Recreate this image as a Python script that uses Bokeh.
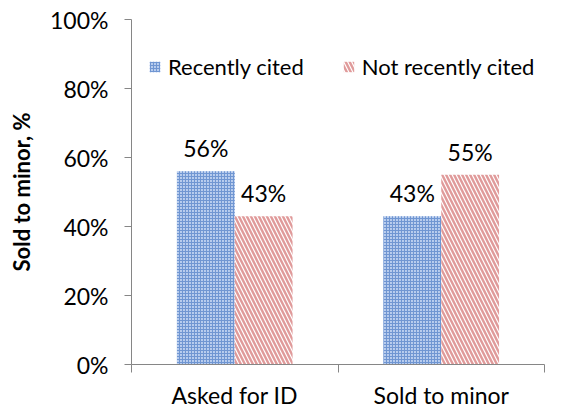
from bokeh.plotting import figure
from bokeh.models import (ColumnDataSource, FixedTicker, NumeralTickFormatter, Range1d,
                          Legend, LegendItem)
from bokeh.transform import dodge
from bokeh.core.properties import value
from bokeh.embed import file_html
from bokeh.resources import INLINE

categories = ["Asked for ID", "Sold to minor"]
recently_cited = [0.56, 0.43]
not_recently_cited = [0.43, 0.55]
recently_labels = ["56%", "43%"]
not_recently_labels = ["43%", "55%"]
y_ticks = [0, 0.2, 0.4, 0.6, 0.8, 1.0]

FONT = "Lato"
FS = "23px"
GRAY = "#868686"

src = ColumnDataSource(dict(
    x=[i + 0.5 for i in range(len(categories))],
    rec=recently_cited, notrec=not_recently_cited,
    rec_lbl=recently_labels, notrec_lbl=not_recently_labels,
))

p = figure(width=576, height=411, output_backend="svg", toolbar_location=None,
           x_range=Range1d(0, len(categories)), y_range=Range1d(0, 1),
           min_border_left=131, min_border_right=32, min_border_top=19, min_border_bottom=46)
p.background_fill_color = "white"
p.outline_line_color = None
p.xgrid.visible = False
p.ygrid.visible = False

bw = 0.28
r1 = p.vbar(x=dodge("x", -bw / 2), top="rec", width=bw, source=src,
            fill_color="#b9cdee", line_color=None,
            hatch_pattern="+", hatch_color="#7096d2", hatch_scale=3, hatch_weight=1.1)
r2 = p.vbar(x=dodge("x", bw / 2), top="notrec", width=bw, source=src,
            fill_color="white", line_color=None,
            hatch_pattern="\\", hatch_color="#e09a9a", hatch_scale=8, hatch_weight=2.4)

p.text(x=dodge("x", -bw / 2), y="rec", text="rec_lbl", source=src, y_offset=-9,
       text_align="center", text_baseline="bottom", text_font=value(FONT),
       text_font_size=FS, text_color="black")
p.text(x=dodge("x", bw / 2), y="notrec", text="notrec_lbl", source=src, y_offset=-9,
       text_align="center", text_baseline="bottom", text_font=value(FONT),
       text_font_size=FS, text_color="black")

# x axis: labels at centers, ticks at category boundaries
xa = p.xaxis[0]
xa.ticker = FixedTicker(ticks=[i + 0.5 for i in range(len(categories))],
                        minor_ticks=list(range(len(categories) + 1)))
xa.major_label_overrides = {i + 0.5: c for i, c in enumerate(categories)}
xa.major_tick_out = 0
xa.major_tick_in = 0
xa.minor_tick_out = 8
xa.minor_tick_in = 0
xa.minor_tick_line_color = GRAY
xa.axis_line_color = GRAY
xa.major_label_text_font = FONT
xa.major_label_text_font_size = FS
xa.major_label_text_color = "black"
xa.major_label_standoff = 8

ya = p.yaxis[0]
ya.ticker = FixedTicker(ticks=y_ticks, minor_ticks=[])
ya.formatter = NumeralTickFormatter(format="0%")
ya.major_tick_out = 7
ya.major_tick_in = 0
ya.major_tick_line_color = GRAY
ya.axis_line_color = GRAY
ya.major_label_text_font = FONT
ya.major_label_text_font_size = FS
ya.major_label_text_color = "black"
ya.major_label_standoff = 16
ya.axis_label = "Sold to minor, %"
ya.axis_label_text_font = FONT
ya.axis_label_text_font_style = "bold"
ya.axis_label_text_font_size = "22px"
ya.axis_label_text_color = "black"
ya.axis_label_standoff = 12

legend = Legend(items=[LegendItem(label="Recently cited", renderers=[r1]),
                       LegendItem(label="Not recently cited", renderers=[r2])],
                orientation="horizontal", location=(17, 284),
                border_line_color=None, background_fill_alpha=0,
                label_text_font=FONT, label_text_font_size="22px",
                label_text_color="black", glyph_width=13, glyph_height=13,
                spacing=38, padding=0, margin=0, label_standoff=7)
p.add_layout(legend, "center")

open("out.html", "w").write(file_html(p, INLINE))
